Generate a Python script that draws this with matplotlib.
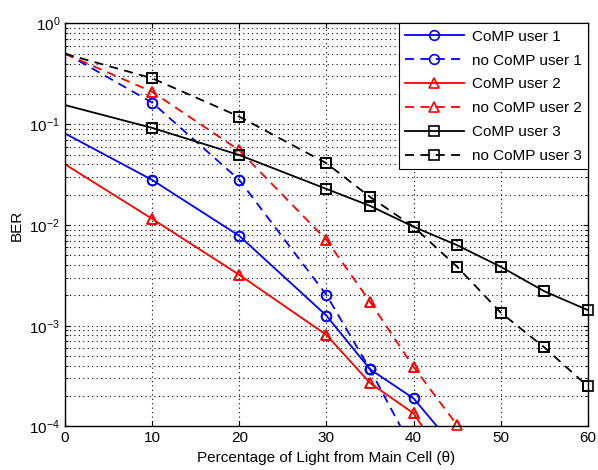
import matplotlib.pyplot as plt
from matplotlib.ticker import LogLocator, NullFormatter

plt.rcParams['font.family'] = ['Liberation Sans', 'DejaVu Sans']

theta = [0, 10, 20, 30, 35, 40, 45, 50, 55, 60]

comp_u1 = [0.081, 0.028, 0.0078, 0.00126, 0.00037, 0.00019, 5.8e-5, 1.5e-5, 4e-6, 1e-6]
nocomp_u1 = [0.51, 0.164, 0.028, 0.00202, 0.00037, 5.7e-5, 8e-6, 1e-6, 1e-7, 1e-8]
comp_u2 = [0.040, 0.0115, 0.0032, 0.00081, 0.00027, 0.000135, 3e-5, 6e-6, 1e-6, 2e-7]
nocomp_u2 = [0.50, 0.21, 0.055, 0.0071, 0.00173, 0.00039, 1.03e-4, 1.5e-5, 2e-6, 2e-7]
comp_u3 = [0.155, 0.092, 0.0495, 0.0228, 0.0155, 0.0096, 0.0063, 0.00385, 0.0022, 0.00143]
nocomp_u3 = [0.50, 0.286, 0.119, 0.041, 0.019, 0.0096, 0.00385, 0.00135, 0.00061, 0.00025]

series = [
    (comp_u1, 'b', '-', 'o', 'CoMP user 1'),
    (nocomp_u1, 'b', '--', 'o', 'no CoMP user 1'),
    (comp_u2, 'r', '-', '^', 'CoMP user 2'),
    (nocomp_u2, 'r', '--', '^', 'no CoMP user 2'),
    (comp_u3, 'k', '-', 's', 'CoMP user 3'),
    (nocomp_u3, 'k', '--', 's', 'no CoMP user 3'),
]

fig = plt.figure(figsize=(5.98, 4.70), dpi=100)
ax = fig.add_axes([0.1087, 0.0926, 0.8743, 0.8574])

mk = dict(markersize=7, markerfacecolor='none', markeredgewidth=1.2)
for vals, c, ls, m, lab in series:
    ln, = ax.semilogy(theta, vals, color=c, linestyle=ls, marker=m, linewidth=1.3,
                      markevery=list(range(1, len(theta))), label=lab, **mk)
    if ls == '--':
        ln.set_dashes((5, 3.5))
    # markers not clipped at the axes edge (like MATLAB)
    px = [t for t, v in zip(theta[1:], vals[1:]) if v >= 1e-4]
    py = [v for v in vals[1:] if v >= 1e-4]
    ax.semilogy(px, py, linestyle='none', marker=m, color=c, clip_on=False, **mk)

ax.set_xlim(0, 60)
ax.set_ylim(1e-4, 1)
ax.set_xticks([0, 10, 20, 30, 40, 50, 60])
ax.yaxis.set_major_locator(LogLocator(base=10, numticks=10))
ax.yaxis.set_minor_locator(LogLocator(base=10, subs=range(2, 10), numticks=10))
ax.yaxis.set_minor_formatter(NullFormatter())
ax.grid(True, which='major', linestyle=(0, (1, 3)), color='k', linewidth=0.8)
ax.grid(True, which='minor', axis='y', linestyle=(0, (1, 3)), color='k', linewidth=0.8)
ax.tick_params(direction='in', which='both', top=True, right=True, labelsize=11)
for s in ax.spines.values():
    s.set_linewidth(1.0)

ax.set_xlabel('Percentage of Light from Main Cell (\u03b8)', fontsize=11)
ax.set_ylabel('BER', fontsize=11)

leg = ax.legend(loc='upper right', fontsize=11, handlelength=3.9, numpoints=1,
                fancybox=False, framealpha=1, edgecolor='k', borderaxespad=0,
                labelspacing=0.65, handletextpad=0.5)
leg.get_frame().set_linewidth(0.8)
leg.set_zorder(5)

fig.savefig('out.png', dpi=100)
